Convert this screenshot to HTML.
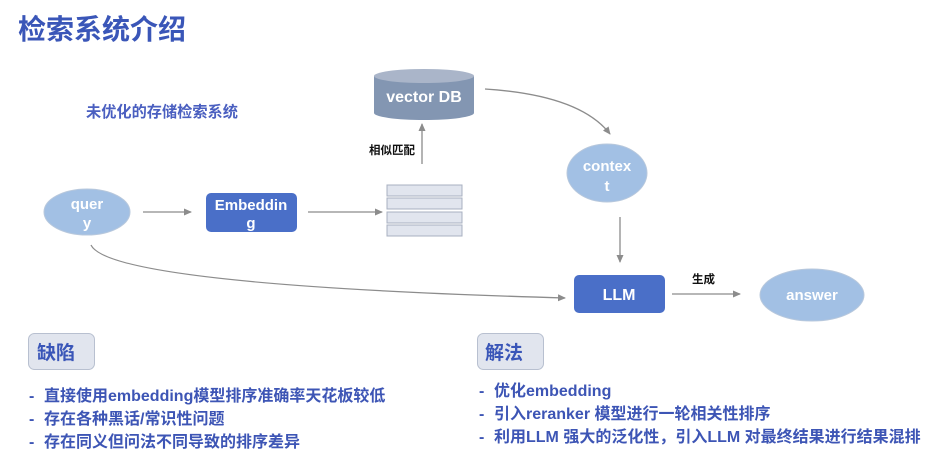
<!DOCTYPE html>
<html><head><meta charset="utf-8"><style>
body{margin:0;width:942px;height:467px;background:#fff;overflow:hidden;font-family:"Liberation Sans","Noto Sans CJK SC",sans-serif;}
svg{position:absolute;left:0;top:0}
</style></head><body>
<svg width="942" height="467" viewBox="0 0 942 467" font-family="Liberation Sans, Noto Sans CJK SC, sans-serif" font-weight="bold">
<defs><marker id="a" markerWidth="8" markerHeight="8" refX="7" refY="4" orient="auto" markerUnits="userSpaceOnUse"><path d="M0,0.5 L8,4 L0,7.5z" fill="#8c8c8c"/></marker></defs>
<text x="18" y="39" font-size="28" fill="#3a56b8">检索系统介绍</text>
<text x="86" y="117" font-size="15.2" fill="#4a5fc0">未优化的存储检索系统</text>
<path d="M374,76 L374,113 A50,7 0 0 0 474,113 L474,76z" fill="#8396b2"/>
<ellipse cx="424" cy="76" rx="50" ry="7" fill="#aab5c9"/>
<text x="424" y="102" font-size="16" fill="#fff" text-anchor="middle">vector DB</text>
<text x="369" y="154" font-size="11.5" fill="#111">相似匹配</text>
<line x1="422" y1="164" x2="422" y2="124" stroke="#8c8c8c" stroke-width="1.3" marker-end="url(#a)"/>
<g fill="#e1e5ee" stroke="#a8b0c0" stroke-width="1">
<rect x="387" y="185" width="75" height="11"/><rect x="387" y="198" width="75" height="11"/>
<rect x="387" y="212" width="75" height="11"/><rect x="387" y="225" width="75" height="11"/></g>
<ellipse cx="87" cy="212" rx="43" ry="23" fill="#a2c0e4" stroke="#b8c8dc"/>
<text x="87" y="209" font-size="15" fill="#fff" text-anchor="middle">quer</text>
<text x="87" y="228" font-size="15" fill="#fff" text-anchor="middle">y</text>
<line x1="143" y1="212" x2="191" y2="212" stroke="#8c8c8c" stroke-width="1.3" marker-end="url(#a)"/>
<rect x="206" y="193" width="91" height="39" rx="5" fill="#4a6fc8"/>
<text x="251" y="210" font-size="15" fill="#fff" text-anchor="middle">Embeddin</text>
<text x="251" y="228" font-size="15" fill="#fff" text-anchor="middle">g</text>
<line x1="308" y1="212" x2="382" y2="212" stroke="#8c8c8c" stroke-width="1.3" marker-end="url(#a)"/>
<path d="M485,89 Q580,95 610,134" fill="none" stroke="#8c8c8c" stroke-width="1.3" marker-end="url(#a)"/>
<ellipse cx="607" cy="173" rx="40" ry="29" fill="#a2c0e4" stroke="#b8c8dc"/>
<text x="607" y="171" font-size="15" fill="#fff" text-anchor="middle">contex</text>
<text x="607" y="191" font-size="15" fill="#fff" text-anchor="middle">t</text>
<line x1="620" y1="217" x2="620" y2="262" stroke="#8c8c8c" stroke-width="1.3" marker-end="url(#a)"/>
<path d="M91,245 Q110,285 565,298" fill="none" stroke="#8c8c8c" stroke-width="1.3" marker-end="url(#a)"/>
<rect x="574" y="275" width="91" height="38" rx="5" fill="#4a6fc8"/>
<text x="619" y="300" font-size="16" fill="#fff" text-anchor="middle">LLM</text>
<text x="692" y="283" font-size="11.5" fill="#111">生成</text>
<line x1="672" y1="294" x2="740" y2="294" stroke="#8c8c8c" stroke-width="1.3" marker-end="url(#a)"/>
<ellipse cx="812" cy="295" rx="52" ry="26" fill="#a2c0e4" stroke="#b8c8dc"/>
<text x="812" y="300" font-size="15" fill="#fff" text-anchor="middle">answer</text>
<rect x="28.5" y="333.5" width="66" height="36" rx="6" fill="#e1e5ee" stroke="#b8c0d0"/>
<text x="37" y="359" font-size="19" fill="#3a56b8">缺陷</text>
<rect x="477.5" y="333.5" width="66" height="36" rx="6" fill="#e1e5ee" stroke="#b8c0d0"/>
<text x="485" y="359" font-size="19" fill="#3a56b8">解法</text>
<g font-size="16" fill="#3d55b5">
<text x="29" y="401">-</text><text x="44" y="401">直接使用embedding模型排序准确率天花板较低</text>
<text x="29" y="424">-</text><text x="44" y="424">存在各种黑话/常识性问题</text>
<text x="29" y="447">-</text><text x="44" y="447">存在同义但问法不同导致的排序差异</text>
<text x="479" y="396">-</text><text x="494" y="396">优化embedding</text>
<text x="479" y="419">-</text><text x="494" y="419">引入reranker 模型进行一轮相关性排序</text>
<text x="479" y="442">-</text><text x="494" y="442">利用LLM 强大的泛化性，引入LLM 对最终结果进行结果混排</text>
</g>
</svg>
</body></html>
